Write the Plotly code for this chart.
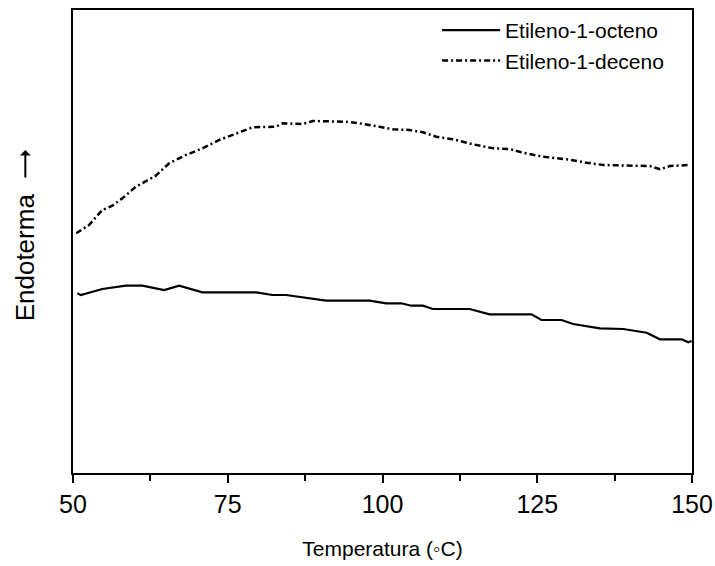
import plotly.graph_objects as go

# Etileno-1-octeno (solid)
temp_octeno = [50.7, 51.25, 54.74, 58.53, 61.21, 64.72, 67.15, 70.92, 79.56, 82.25, 84.42,
               90.89, 97.9, 100.6, 103.03, 104.64, 106.52, 108.14, 114.08, 117.31, 124.06,
               125.68, 128.92, 130.79, 135.11, 138.88, 142.67, 144.82, 148.33, 149.4, 149.95]
endo_octeno = [179.7, 178, 184, 187.3, 187.3, 183, 187.3, 180.7, 180.7, 178, 178,
               172.3, 172.3, 169.7, 169.7, 167.3, 167.3, 164, 164, 158.7, 158.7,
               153, 153, 149, 144.7, 144, 140.3, 133.7, 133.7, 130.7, 132]

# Etileno-1-deceno (dashed)
temp_deceno = [50.53, 52.59, 54.74, 56.36, 57.98, 60.15, 63.38, 65.53, 68.24, 70.92, 73.62,
               76.86, 79.01, 82.8, 83.87, 87.1, 88.72, 94.11, 96.28, 99.51, 101.67, 104.37,
               106.52, 108.69, 111.38, 114.61, 117.85, 120.55, 122.7, 125.94, 129.72,
               132.96, 135.65, 143.2, 144.82, 146.44, 149.68]
endo_deceno = [239.7, 248, 263, 267.3, 274.7, 286.3, 297.3, 309.7, 318, 324.7, 333,
               340.7, 345.7, 346.3, 349.7, 349, 352, 351.3, 349.7, 346.3, 343.7, 343,
               340.7, 336.3, 333.7, 328.7, 324.7, 324, 320.3, 316.3, 313.7,
               310.3, 308, 307, 303.7, 307, 308]

x_ticks = [50, 75, 100, 125, 150]
x_ticklabels = ["50", "75", "100", "125", "150"]

FONT = "Arial, Liberation Sans, Helvetica, sans-serif"

fig = go.Figure()
fig.add_trace(go.Scatter(x=temp_octeno, y=endo_octeno, mode="lines",
                         name="Etileno-1-octeno",
                         line=dict(color="black", width=2.2)))
fig.add_trace(go.Scatter(x=temp_deceno, y=endo_deceno, mode="lines",
                         name="Etileno-1-deceno",
                         line=dict(color="black", width=2.5, dash="6px,3px,2px,3px")))

fig.update_layout(
    width=715, height=566,
    margin=dict(l=73, r=23, t=10, b=93, autoexpand=False),
    paper_bgcolor="white", plot_bgcolor="white",
    font=dict(family=FONT, color="black"),
    showlegend=True,
    legend=dict(x=0.963, xanchor="right", y=1.0, yanchor="top",
                font=dict(size=21, family=FONT), bgcolor="rgba(0,0,0,0)",
                itemwidth=58, tracegroupgap=0),
    xaxis=dict(range=[50, 150], tickvals=x_ticks, ticktext=x_ticklabels,
               automargin=False,
               showgrid=False, zeroline=False,
               showline=True, linecolor="black", linewidth=2, mirror=True,
               ticks="outside", ticklen=8, tickwidth=2, tickcolor="black",
               minor=dict(tickvals=[62.5, 87.5, 112.5, 137.5], ticks="outside",
                          ticklen=6, tickwidth=2, tickcolor="black"),
               tickfont=dict(size=25, family=FONT),
               title=dict(text="Temperatura (◦C)", font=dict(size=21, family=FONT),
                          standoff=24)),
    yaxis=dict(range=[0, 463], showticklabels=False, ticks="",
               automargin=False,
               showgrid=False, zeroline=False,
               showline=True, linecolor="black", linewidth=2, mirror=True),
)

# y-axis label text
fig.add_annotation(text="Endoterma", xref="paper", yref="paper",
                   x=-0.077, y=(473 - 257) / 463, xanchor="center", yanchor="middle",
                   textangle=-90, showarrow=False,
                   font=dict(size=26, family=FONT, color="black"))
# upward arrow after the label
fig.add_annotation(text="", xref="paper", yref="paper",
                   x=-0.077, y=(473 - 150) / 463, ax=0, ay=29,
                   showarrow=True, arrowhead=1, arrowsize=0.9, arrowwidth=2,
                   arrowcolor="black")

fig.write_html("out.html", config={"displayModeBar": False},
               post_script="document.body.style.margin='0';document.body.style.overflow='hidden';")
